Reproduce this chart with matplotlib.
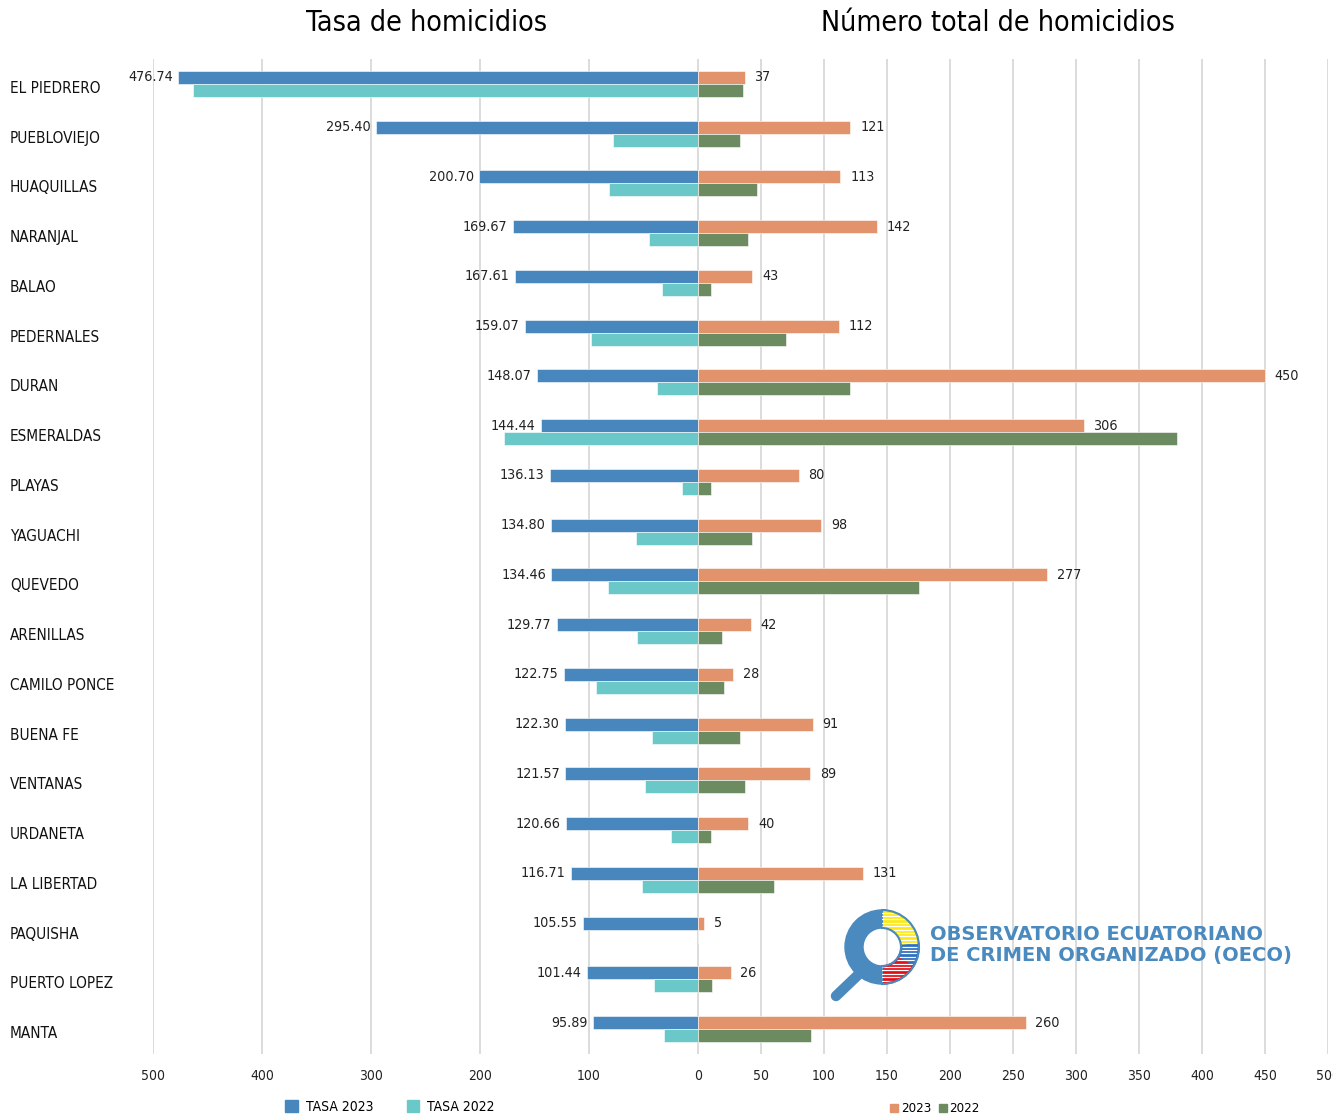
import numpy as np
import matplotlib
matplotlib.use('Agg')
import matplotlib.pyplot as plt
import matplotlib.transforms as mtransforms
from matplotlib.patches import Wedge, Rectangle

# Data
municipios = ['EL PIEDRERO', 'PUEBLOVIEJO', 'HUAQUILLAS', 'NARANJAL', 'BALAO',
              'PEDERNALES', 'DURAN', 'ESMERALDAS', 'PLAYAS', 'YAGUACHI',
              'QUEVEDO', 'ARENILLAS', 'CAMILO PONCE', 'BUENA FE', 'VENTANAS',
              'URDANETA', 'LA LIBERTAD', 'PAQUISHA', 'PUERTO LOPEZ', 'MANTA']
tasa_2023 = [476.74, 295.40, 200.70, 169.67, 167.61, 159.07, 148.07, 144.44,
             136.13, 134.80, 134.46, 129.77, 122.75, 122.30, 121.57, 120.66,
             116.71, 105.55, 101.44, 95.89]
tasa_2022 = [463, 78, 82, 45, 33, 98, 38, 178, 15, 57, 83, 56, 94, 42, 49,
             25, 51, 0, 40, 31]
total_2023 = [37, 121, 113, 142, 43, 112, 450, 306, 80, 98, 277, 42, 28, 91,
              89, 40, 131, 5, 26, 260]
total_2022 = [36, 33, 47, 40, 10, 70, 121, 380, 10, 43, 175, 19, 21, 33, 37,
              10, 60, 0, 11, 90]

left_ticks = [500, 400, 300, 200, 100, 0]
right_ticks = [0, 50, 100, 150, 200, 250, 300, 350, 400, 450, 500]

c_tasa23 = '#4787be'
c_tasa22 = '#6bc8c8'
c_tot23 = '#e3936b'
c_tot22 = '#6d8b60'
c_grid = '#d9d9d9'
c_logo = '#4a8abf'

# condensed DejaVu is close to the narrow font of the original
plt.rcParams['font.family'] = ['DejaVu Sans']
plt.rcParams['font.stretch'] = 'condensed'

W, H = 1333, 1115
fig = plt.figure(figsize=(W / 100, H / 100), dpi=100)


def px(x0, y0, x1, y1):
    # pixel box (top-left origin) -> figure fraction rect
    return [x0 / W, 1 - y1 / H, (x1 - x0) / W, (y1 - y0) / H]


y = np.arange(len(municipios))
bh = 0.26

ax1 = fig.add_axes(px(153, 59, 698, 1054))
ax2 = fig.add_axes(px(698, 59, 1328, 1054))

ax1.barh(y - bh / 2, tasa_2023, height=bh, color=c_tasa23, edgecolor='white', linewidth=0.4, zorder=3)
ax1.barh(y + bh / 2, tasa_2022, height=bh, color=c_tasa22, edgecolor='white', linewidth=0.4, zorder=3)
ax2.barh(y - bh / 2, total_2023, height=bh, color=c_tot23, edgecolor='white', linewidth=0.4, zorder=3)
ax2.barh(y + bh / 2, total_2022, height=bh, color=c_tot22, edgecolor='white', linewidth=0.4, zorder=3)

for i, v in enumerate(tasa_2023):
    ax1.annotate(f'{v:.2f}', (v, i - bh / 2), xytext=(-4, 0), textcoords='offset points',
                 ha='right', va='center', fontsize=10.3, color='#222222')
for i, v in enumerate(total_2023):
    ax2.annotate(str(v), (v, i - bh / 2), xytext=(7, 0), textcoords='offset points',
                 ha='left', va='center', fontsize=10.3, color='#222222')

ax1.set_xlim(500, 0)
ax2.set_xlim(0, 500)
for ax in (ax1, ax2):
    ax.set_ylim(len(municipios) - 0.5, -0.5)
    for s in ax.spines.values():
        s.set_visible(False)
    ax.grid(axis='x', color=c_grid, linewidth=1.3, zorder=0)
    ax.set_axisbelow(True)
    ax.tick_params(axis='x', length=0, pad=11, labelsize=10, labelcolor='#222222')

ax1.set_xticks(left_ticks)
ax1.set_xticklabels([str(t) for t in left_ticks[:-1]] + [''])
ax2.set_xticks(right_ticks)
ax1.set_yticks(y)
ax1.set_yticklabels(municipios, ha='left', fontsize=11, color='#111111')
ax1.tick_params(axis='y', length=0, pad=103)
ax2.set_yticks([])
shift = mtransforms.ScaledTranslation(0, -3 / 100, fig.dpi_scale_trans)
for lab in ax1.get_yticklabels():
    lab.set_transform(lab.get_transform() + shift)

fig.text(427 / W, 1 - 23 / H, 'Tasa de homicidios', ha='center', va='center', fontsize=20.5)
fig.text(998 / W, 1 - 23 / H, 'Número total de homicidios', ha='center', va='center', fontsize=20.5)

# legends
h1 = [Rectangle((0, 0), 1, 1, color=c_tasa23), Rectangle((0, 0), 1, 1, color=c_tasa22)]
fig.legend(h1, ['TASA 2023', 'TASA 2022'], loc='center', bbox_to_anchor=(390 / W, 1 - 1107 / H),
           ncol=2, frameon=False, fontsize=10, handlelength=0.9, handleheight=0.9,
           handletextpad=0.6, columnspacing=2.4, borderpad=0)
h2 = [Rectangle((0, 0), 1, 1, color=c_tot23), Rectangle((0, 0), 1, 1, color=c_tot22)]
fig.legend(h2, ['2023', '2022'], loc='center', bbox_to_anchor=(935 / W, 1 - 1109 / H),
           ncol=2, frameon=False, fontsize=9.5, handlelength=0.6, handleheight=0.6,
           handletextpad=0.2, columnspacing=0.6, borderpad=0)

# OECO logo
axl = fig.add_axes(px(820, 890, 1000, 1010))
axl.set_xlim(820, 1000)
axl.set_ylim(H - 1010, H - 890)
axl.axis('off')
cx, cy, r, wd = 882, H - 947, 37, 18
axl.plot([836, 858], [H - 996, H - 975], color=c_logo, linewidth=7.5, solid_capstyle='round')
axl.add_patch(Wedge((cx, cy), r, 90, 270, width=wd, color=c_logo))
axl.add_patch(Wedge((cx, cy), r, 5, 90, width=wd, color='#fde910'))
axl.add_patch(Wedge((cx, cy), r, -32, 5, width=wd, color='#2e6fc0'))
axl.add_patch(Wedge((cx, cy), r, -90, -32, width=wd, color='#e3101a'))
clip = Wedge((cx, cy), r - 1.5, -90, 90, width=wd - 3, facecolor='none', edgecolor='none')
axl.add_patch(clip)
for yy in np.arange(cy - r, cy + r, 3.4):
    ln, = axl.plot([cx, cx + r], [yy, yy], color='white', linewidth=0.9)
    ln.set_clip_path(clip)
axl.add_patch(Wedge((cx, cy), r, -90, 90, width=wd, facecolor='none', edgecolor=c_logo, linewidth=1.5))

fig.text(930 / W, 1 - 945 / H, 'OBSERVATORIO ECUATORIANO\nDE CRIMEN ORGANIZADO (OECO)',
         ha='left', va='center', fontsize=14, fontweight='bold', color=c_logo,
         family='DejaVu Sans', stretch='normal', linespacing=1.15)

fig.savefig('out.png', dpi=100)
